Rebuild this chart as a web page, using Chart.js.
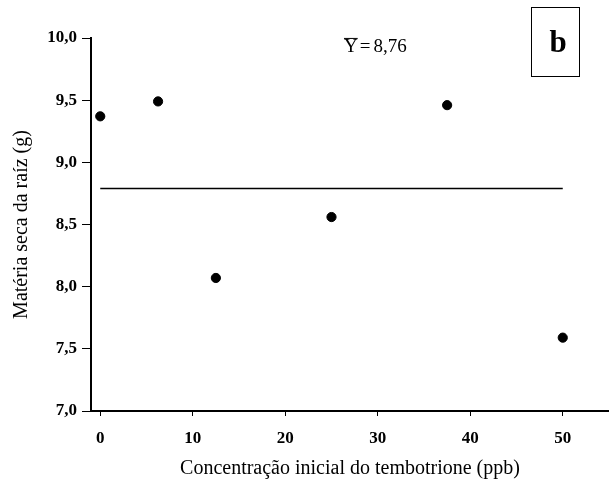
<!DOCTYPE html>
<html lang="pt">
<head>
    <meta charset="UTF-8">
    <title>Matéria seca da raíz</title>
    <script src="https://cdn.jsdelivr.net/npm/chart.js"></script>
    <style>
        html, body { margin: 0; padding: 0; background: #fff; }
        #wrap { width: 609px; height: 486px; }
    </style>
</head>
<body>
    <div id="wrap">
        <canvas id="chart" width="609" height="486"></canvas>
    </div>

    <script>
        // data
        const doses = [0, 6.25, 12.5, 25, 37.5, 50];
        const massaSeca = [9.37, 9.49, 8.07, 8.56, 9.46, 7.59];
        const meanX = [0, 50];
        const meanY = 8.79;
        const xTicks = [0, 10, 20, 30, 40, 50];
        const yTicks = [7.0, 7.5, 8.0, 8.5, 9.0, 9.5, 10.0];

        const serif = '"Liberation Serif", "Times New Roman", serif';

        // mean label and the panel letter
        const extras = {
            id: 'extras',
            afterDraw(chart) {
                const ctx = chart.ctx;
                const x = chart.scales.x, y = chart.scales.y;
                const area = chart.chartArea;
                ctx.save();
                ctx.fillStyle = '#000';
                ctx.strokeStyle = '#000';
                ctx.textBaseline = 'alphabetic';
                ctx.textAlign = 'left';
                ctx.font = '19px ' + serif;

                let px = x.getPixelForValue(26.35);
                const base = y.getPixelForValue(9.884);
                ctx.fillText('Y', px, base);
                const wY = ctx.measureText('Y').width;
                ctx.lineWidth = 1;
                ctx.beginPath();
                ctx.moveTo(px, base - 14);
                ctx.lineTo(px + wY, base - 14);
                ctx.stroke();
                px += wY + 2;
                ctx.fillText('=', px, base);
                px += ctx.measureText('=').width + 3;
                ctx.fillText('8,76', px, base);

                // boxed "b"
                const bx = area.right - 78, bw = 48;
                const by = 7, bh = 69;
                ctx.lineWidth = 1;
                ctx.strokeRect(bx + 0.5, by + 0.5, bw, bh);
                ctx.font = 'bold 31px ' + serif;
                ctx.textAlign = 'center';
                ctx.fillText('b', bx + bw / 2 + 3, 52);
                ctx.restore();
            }
        };

        new Chart(document.getElementById('chart'), {
            type: 'scatter',
            data: {
                datasets: [
                    {
                        label: 'Matéria seca',
                        data: doses.map((d, i) => ({ x: d, y: massaSeca[i] })),
                        backgroundColor: '#000',
                        borderColor: '#000',
                        pointRadius: 4.6,
                        pointHoverRadius: 4.6
                    },
                    {
                        label: 'Média',
                        data: meanX.map(d => ({ x: d, y: meanY })),
                        showLine: true,
                        borderColor: '#000',
                        borderWidth: 1.5,
                        pointRadius: 0,
                        fill: false
                    }
                ]
            },
            options: {
                responsive: false,
                animation: false,
                layout: {
                    autoPadding: false,
                    padding: { top: 38, right: 0, bottom: 0, left: 0 }
                },
                plugins: {
                    legend: { display: false },
                    tooltip: { enabled: false }
                },
                scales: {
                    x: {
                        type: 'linear',
                        min: -1,
                        max: 55,
                        afterBuildTicks: function(scale) {
                            scale.ticks = xTicks.map(v => ({ value: v }));
                        },
                        afterFit: function(scale) {
                            scale.height = 75;
                            scale.paddingRight = 0;
                            scale.paddingLeft = 0;
                        },
                        grid: {
                            drawOnChartArea: false,
                            drawTicks: true,
                            tickLength: 5,
                            color: '#000',
                            lineWidth: 1
                        },
                        border: { display: true, color: '#000', width: 2 },
                        ticks: {
                            color: '#000',
                            padding: 12,
                            maxRotation: 0,
                            font: { family: serif, size: 17, weight: 'bold' },
                            callback: v => String(v)
                        },
                        title: {
                            display: true,
                            text: 'Concentração inicial do tembotrione (ppb)',
                            color: '#000',
                            font: { family: serif, size: 20 },
                            padding: { top: 0, bottom: 5 }
                        }
                    },
                    y: {
                        type: 'linear',
                        min: 7,
                        max: 10,
                        afterBuildTicks: function(scale) {
                            scale.ticks = yTicks.map(v => ({ value: v }));
                        },
                        afterFit: function(scale) { scale.width = 91; },
                        grid: {
                            drawOnChartArea: false,
                            drawTicks: true,
                            tickLength: 9,
                            color: '#000',
                            lineWidth: 1
                        },
                        border: { display: true, color: '#000', width: 2 },
                        ticks: {
                            color: '#000',
                            padding: 5,
                            font: { family: serif, size: 17, weight: 'bold' },
                            callback: v => v.toFixed(1).replace('.', ',')
                        },
                        title: {
                            display: true,
                            text: 'Matéria seca da raíz (g)',
                            color: '#000',
                            font: { family: serif, size: 20 },
                            padding: { top: 10, bottom: 0 }
                        }
                    }
                }
            },
            plugins: [extras]
        });
    </script>
</body>
</html>
